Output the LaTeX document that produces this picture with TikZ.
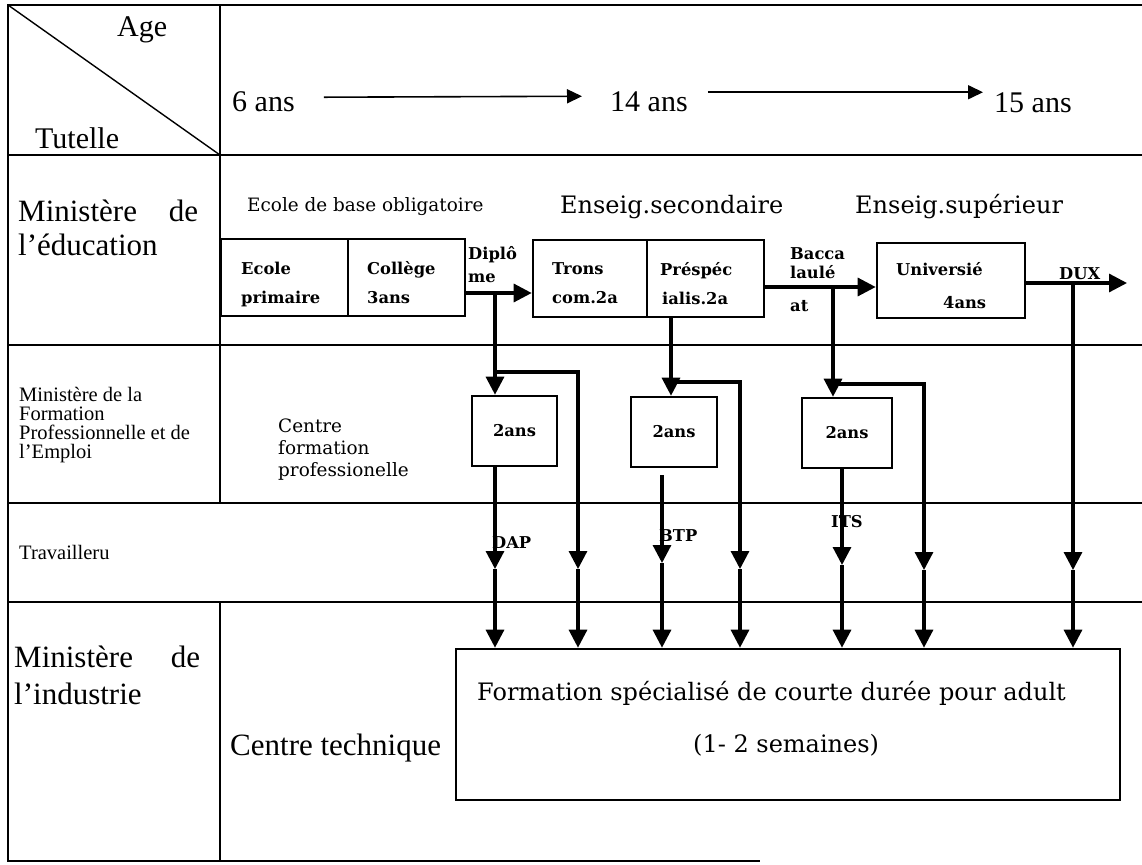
\documentclass[tikz,border=0pt]{standalone}
\usepackage{fontspec}
\setmainfont{Liberation Serif}
\newfontfamily\schfont{DejaVu Serif}
\usetikzlibrary{arrows.meta}

\newcommand\hdrfont{\fontsize{30}{32}\selectfont}
\newcommand\minfont{\fontsize{31}{34}\selectfont}
\newcommand\tinyminfont{\fontsize{20.5}{19}\selectfont}
\newcommand\secfont{\schfont\fontsize{24}{28}\selectfont}
\newcommand\cfpfont{\schfont\fontsize{18.4}{22}\selectfont}
\newcommand\boxfont{\schfont\bfseries\fontsize{16.3}{19}\selectfont}

\tikzset{
  x=1pt, y=-1pt,
  grid/.style={line width=1.8pt},
  slash/.style={line width=1.4pt},
  boxed/.style={draw, line width=2.6pt, inner sep=0pt},
  link/.style={line width=3.2pt},
  flow/.style={link, -{Triangle[length=18pt,width=18pt]}},
  ageflow/.style={line width=1.6pt, -{Triangle[length=15pt,width=14pt]}},
  txt/.style={inner sep=0pt, anchor=base west},
}

\begin{document}
\begin{tikzpicture}
\useasboundingbox[fill=white] (0,0) rectangle (1142,864);

%Grid
\draw[grid] (1142,5) -- (8,5) -- (8,861) -- (760,861);
\draw[grid] (220,5) -- (220,503);
\draw[grid] (220,602) -- (220,861);
\foreach \y in {155,345,503,602}
  \draw[grid] (8,\y) -- (1142,\y);
\draw[slash] (8,5) -- (220,155);

%Header
\node[txt, font=\hdrfont] (age) at (117,37) {Age};
\node[txt, font=\hdrfont] (tutelle) at (35,148) {Tutelle};
\node[txt, font=\hdrfont] (six) at (232,112) {6 ans};
\node[txt, font=\hdrfont] (fourteen) at (610,111) {14 ans};
\node[txt, font=\hdrfont] (fifteen) at (994,113) {15 ans};
\draw[ageflow] ([xshift=29pt,yshift=5pt]six.east) -- ([xshift=-28pt,yshift=5pt]fourteen.west);
\draw[ageflow] ([xshift=20pt,yshift=9pt]fourteen.east) -- ([xshift=-11pt,yshift=11pt]fifteen.west);

%Tutelles
\node[txt, font=\minfont] (edu1) at (18,221) {\makebox[180pt][s]{Ministère de}};
\node[txt, font=\minfont] (edu2) at (18,255) {l'éducation};
\node[anchor=north west, inner sep=0pt, align=left, font=\tinyminfont] (mfpe) at (19,387)
  {Ministère de la\\Formation\\Professionnelle et de\\l'Emploi};
\node[txt, font=\tinyminfont] (trav) at (19,559) {Travailleru};
\node[txt, font=\minfont] (ind1) at (14,667) {\makebox[186pt][s]{Ministère de}};
\node[txt, font=\minfont] (ind2) at (14,704) {l'industrie};

%Education
\node[txt, font=\cfpfont] (base) at (247,211) {Ecole de base obligatoire};
\node[txt, font=\secfont] (second) at (560,213) {Enseig.secondaire};
\node[txt, font=\secfont] (super) at (855,213) {Enseig.supérieur};

\node[boxed, minimum width=127pt, minimum height=77pt] (primaire) at (284.5,277.5) {};
\node[boxed, minimum width=117pt, minimum height=77pt] (college) at (406.5,277.5) {};
\node[boxed, minimum width=114pt, minimum height=77pt] (trons) at (590,278.5) {};
\node[boxed, minimum width=117pt, minimum height=77pt] (presp) at (705.5,278.5) {};
\node[boxed, minimum width=148pt, minimum height=75pt] (univ) at (951,280.5) {};

\node[txt, font=\boxfont] (ecole1) at (241,274) {Ecole};
\node[txt, font=\boxfont] (ecole2) at (241,303) {primaire};
\node[txt, font=\boxfont] (coll1) at (367,274) {Collège};
\node[txt, font=\boxfont] (coll2) at (367,303) {3ans};
\node[txt, font=\boxfont] (dip1) at (468,259) {Diplô};
\node[txt, font=\boxfont] (dip2) at (468,282) {me};
\node[txt, font=\boxfont] (trons1) at (552,274) {Trons};
\node[txt, font=\boxfont] (trons2) at (552,303) {com.2a};
\node[txt, font=\boxfont] (presp1) at (660,275) {Préspéc};
\node[txt, font=\boxfont] (presp2) at (662,304) {ialis.2a};
\node[txt, font=\boxfont] (bac1) at (790,259) {Bacca};
\node[txt, font=\boxfont] (bac2) at (790,278) {laulé};
\node[txt, font=\boxfont] (bac3) at (790,311) {at};
\node[txt, font=\boxfont] (univ1) at (896,275) {Universié};
\node[txt, font=\boxfont] (univ2) at (943,308) {4ans};
\node[txt, font=\boxfont] (duxlabel) at (1059,279) {DUX};

%Formation professionnelle
\node[anchor=north west, inner sep=0pt, align=left, font=\cfpfont] (cfplabel) at (278,419)
  {Centre\\formation\\professionelle};
\node[boxed, font=\boxfont, minimum width=85pt, minimum height=70pt] (cfpA) at (514.5,431) {2ans};
\node[boxed, font=\boxfont, minimum width=86pt, minimum height=70pt] (cfpB) at (674,432) {2ans};
\node[boxed, font=\boxfont, minimum width=90pt, minimum height=70pt] (cfpC) at (847,433) {2ans};
\node[txt, font=\boxfont] (dap) at (492,548) {DAP};
\node[txt, font=\boxfont] (btp) at (659,541) {BTP};
\node[txt, font=\boxfont] (its) at (831,527) {ITS};

%Industrie
\node[txt, font=\minfont] (tech) at (230,755) {Centre technique};
\node[boxed, minimum width=664pt, minimum height=151pt] (stage) at (788,724.5) {};
\node[txt, font=\secfont] (stage1) at (477,700) {Formation spécialisé de courte durée pour adult};
\node[txt, font=\secfont] (stage2) at (693,752) {(1- 2 semaines)};

%Flows
\coordinate (dip) at (495,293);
\coordinate (feedA) at (495,372);
\coordinate (midA1) at (495,569);
\coordinate (midA2) at (578,569);
\draw[flow] (college.east |- dip) -- (trons.west |- dip);
\draw[flow] (dip) -- (cfpA.north -| dip);
\draw[flow] (feedA) -| (midA2);
\draw[flow] (midA2) -- (stage.north -| midA2);
\draw[flow] (cfpA.south -| dip) -- (midA1);
\draw[flow] (midA1) -- (stage.north -| midA1);

\coordinate (feedB) at (671,382);
\coordinate (btp0) at (662,475);
\coordinate (midB1) at (662,563);
\coordinate (midB2) at (740,569);
\draw[flow] (presp.south -| feedB) -- (cfpB.north -| feedB);
\draw[flow] (feedB) -| (midB2);
\draw[flow] (midB2) -- (stage.north -| midB2);
\draw[flow] (btp0) -- (midB1);
\draw[flow] (midB1) -- (stage.north -| midB1);

\coordinate (bac) at (833,287);
\coordinate (feedC) at (833,384);
\coordinate (midC1) at (842,565);
\coordinate (midC2) at (924,570);
\draw[flow] (presp.east |- bac) -- (univ.west |- bac);
\draw[flow] (bac) -- (cfpC.north -| bac);
\draw[flow] (feedC) -| (midC2);
\draw[flow] (midC2) -- (stage.north -| midC2);
\draw[flow] (cfpC.south -| midC1) -- (midC1);
\draw[flow] (midC1) -- (stage.north -| midC1);

\coordinate (dux) at (1073,283);
\coordinate (duxend) at (1127,283);
\coordinate (midD) at (1073,570);
\draw[flow] (univ.east |- dux) -- (duxend);
\draw[flow] (dux) -- (midD);
\draw[flow] (midD) -- (stage.north -| midD);
\end{tikzpicture}
\end{document}
